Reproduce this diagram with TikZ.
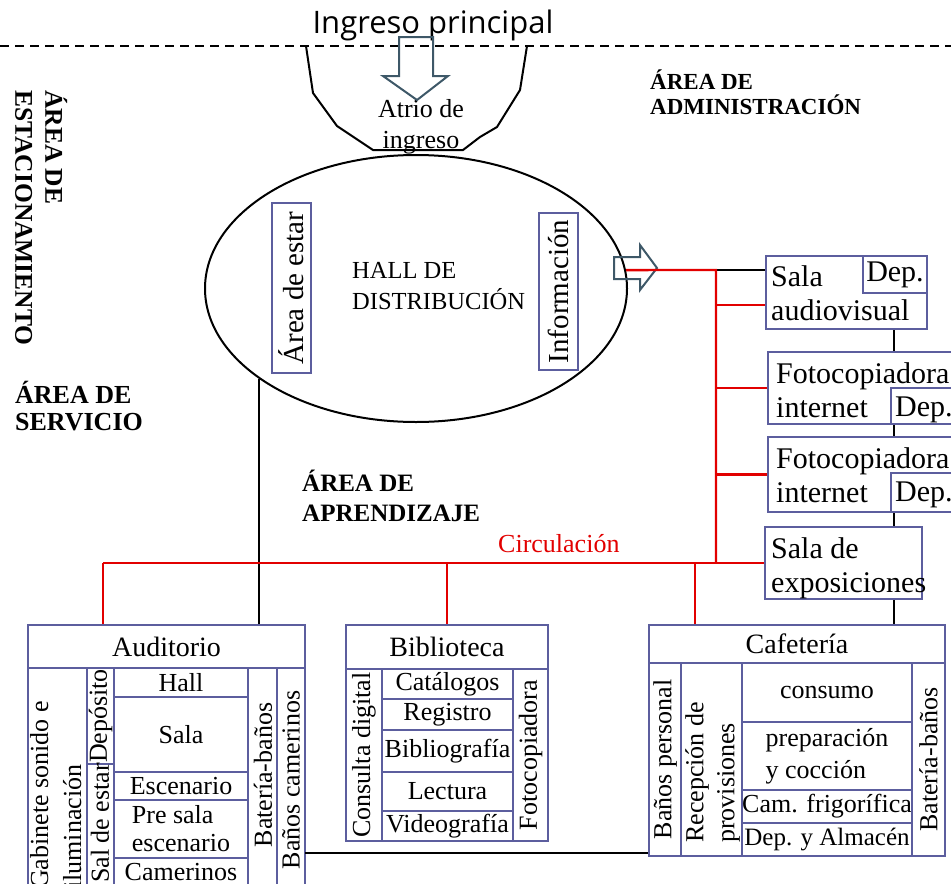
\documentclass[tikz,border=0pt]{standalone}
\usepackage{fontspec}
\setmainfont{Liberation Serif}
\newfontfamily\signfont{Open Sans}
\usetikzlibrary{shapes.geometric}
\definecolor{cellblue}{RGB}{92,94,158}
\definecolor{circred}{RGB}{226,0,0}
\definecolor{slate}{RGB}{62,88,104}

\begin{document}
\begin{tikzpicture}[x=1pt, y=-1pt,
  every node/.style={font=\fontsize{26}{30}\selectfont, inner sep=0pt},
  cell/.style={draw=cellblue, line width=2pt},
  cellat/.style args={#1/#2/#3/#4}{at={({(#1+#3)/2},{(#2+#4)/2})},
    minimum width={#3-#1}, minimum height={#4-#2}},
  head/.style={cell, font=\fontsize{28}{32}\selectfont},
  big/.style={font=\fontsize{30}{34}\selectfont},
  zone/.style={font=\bfseries\fontsize{23}{25}\selectfont, align=left},
  wall/.style={line width=2pt},
  link/.style={line width=2.3pt},
  circ/.style={line width=2.3pt, draw=circred},
  hollow/.style={draw=slate, line width=2pt}]
\useasboundingbox (0,0) rectangle (951,884);
\clip (0,0) rectangle (951,884);

% entrance and atrium
\draw[wall, dash pattern=on 9pt off 6pt] (0,46) -- (951,46);
\node[font=\signfont\fontsize{31}{34}\selectfont, anchor=base] (ingreso) at (433,33) {Ingreso principal};
\draw[wall] (306,46) -- (313,93) -- (337,126) -- (373,150) -- (463,150) -- (480,137) -- (497,127) -- (520,90) -- (527,46);
\node[align=center, font=\fontsize{26}{31}\selectfont, anchor=north] (atrio) at (421,99) {Atrio de\\ingreso};
\draw[hollow] (399,37) -- (433,37) -- (433,76) -- (448,76) -- (417,100) -- (383,76) -- (399,76) -- cycle;

% distribution hall
\node[draw, ellipse, line width=2pt, minimum width=422, minimum height=267] (hall) at (416,288.5) {};
\node[cell, font=\fontsize{29}{34}\selectfont, cellat=272/203/311/373] (estar) {\rotatebox{90}{Área de estar}};
\node[cell, font=\fontsize{29}{34}\selectfont, cellat=539/213/578/370] (info) {\rotatebox{90}{Información}};
\node[align=left, anchor=north west, font=\fontsize{24.5}{31}\selectfont] (hallT) at (352,262) {HALL DE\\DISTRIBUCIÓN};
\draw[hollow] (614,257) -- (640,257) -- (640,245) -- (657,268) -- (640,290) -- (640,279) -- (614,279) -- cycle;

% zones
\node[zone, anchor=south west] (admin) at (650,115) {ÁREA DE\\ADMINISTRACIÓN};
\node[zone, font=\bfseries\fontsize{26}{27}\selectfont, anchor=south west] (servicio) at (15,431) {ÁREA DE\\SERVICIO};
\node[zone, font=\bfseries\fontsize{25}{30}\selectfont, anchor=south west] (aprend) at (302,522) {ÁREA DE\\APRENDIZAJE};
\node[zone, font=\bfseries\fontsize{25.5}{30}\selectfont, rotate=-90, anchor=south west] (estac) at (15,90) {ÁREA DE\\ESTACIONAMIENTO};
\node[text=circred, anchor=base west] (circT) at (498,552) {Circulación};

% administration rooms
\node[cell, cellat=766/256/927/329] (saud) {};
\node[cell, big, cellat=863/256/927/293] (saudDep) {Dep.};
\node[big, align=left, anchor=north west] (saudT) at (771,265) {Sala\\audiovisual};
\node[cell, cellat=768/352/962/424] (foto1) {};
\node[cell, cellat=891/388/962/424] (foto1Dep) {};
\node[big, anchor=base west] (foto1DepT) at (895,416) {Dep.};
\node[big, align=left, anchor=north west] (foto1T) at (776,362) {Fotocopiadora\\internet};
\node[cell, cellat=768/437/962/512] (foto2) {};
\node[cell, cellat=891/473/962/512] (foto2Dep) {};
\node[big, anchor=base west] (foto2DepT) at (895,501) {Dep.};
\node[big, align=left, anchor=north west] (foto2T) at (776,447) {Fotocopiadora\\internet};
\node[cell, cellat=765/527/922/599] (sexp) {};
\node[big, align=left, anchor=north west] (sexpT) at (771,537) {Sala de\\exposiciones};

% auditorium
\node[cell, cellat=28/625/305/900] (aud) {};
\node[head, cellat=28/625/305/668] (audH) {Auditorio};
\node[cell, cellat=28/668/87/900] (audGab) {};
\node[rotate=90, align=left, anchor=north west, font=\fontsize{26}{33}\selectfont] (audGabT) at (30,889) {Gabinete sonido e\\iluminación};
\node[cell, cellat=87/668/114/764] (audDep) {\rotatebox{90}{Depósito}};
\node[cell, cellat=87/764/114/900] (audSal) {};
\node[rotate=90] (audSalT) at (100,823) {Sal de estar};
\node[cell, cellat=114/668/248/697] (audHall) {Hall};
\node[cell, cellat=114/697/248/772] (audSala) {Sala};
\node[cell, cellat=114/772/248/800] (audEsc) {Escenario};
\node[cell, cellat=114/800/248/858, align=left, font=\fontsize{26}{28}\selectfont] (audPre) {Pre sala\\escenario};
\node[cell, cellat=114/858/248/900] (audCam) {};
\node (audCamT) at (181,872) {Camerinos};
\node[cell, cellat=248/668/277/900] (audBat) {};
\node[rotate=90] (audBatT) at (263,775) {Batería-baños};
\node[cell, cellat=277/668/305/900] (audBan) {};
\node[rotate=90] (audBanT) at (291,780) {Baños camerinos};

% library
\node[cell, cellat=346/625/548/841] (bib) {};
\node[head, cellat=346/625/548/669] (bibH) {Biblioteca};
\node[cell, cellat=346/669/382/841] (bibCon) {\rotatebox{90}{Consulta digital}};
\node[cell, cellat=382/669/513/699] (bibCat) {Catálogos};
\node[cell, cellat=382/699/513/730] (bibReg) {Registro};
\node[cell, cellat=382/730/513/772] (bibBib) {Bibliografía};
\node[cell, cellat=382/772/513/811] (bibLec) {Lectura};
\node[cell, cellat=382/811/513/841] (bibVid) {Videografía};
\node[cell, cellat=513/669/548/841] (bibFot) {\rotatebox{90}{Fotocopiadora}};

% cafeteria
\node[cell, cellat=649/625/945/856] (caf) {};
\node[head, cellat=649/625/945/663] (cafH) {Cafetería};
\node[cell, cellat=649/663/681/856] (cafBan) {\rotatebox{90}{Baños personal}};
\node[cell, cellat=681/663/742/856] (cafRec) {};
\node[rotate=90, align=left, anchor=north west, font=\fontsize{26}{31}\selectfont] (cafRecT) at (685,843) {Recepción de\\provisiones};
\node[cell, cellat=742/663/912/722] (cafCon) {consumo};
\node[cell, cellat=742/722/912/790, align=left, font=\fontsize{26}{32}\selectfont] (cafPre) {preparación\\y cocción};
\node[cell, cellat=742/790/912/823] (cafCam) {Cam. frigorífica};
\node[cell, cellat=742/823/912/856, font=\fontsize{25}{30}\selectfont] (cafDep) {Dep. y Almacén};
\node[cell, cellat=912/663/945/856] (cafBat) {\rotatebox{90}{Batería-baños}};

% links
\coordinate (cT) at (716,270);
\coordinate (cB) at (716,563);
\coordinate (cL) at (103,563);
\coordinate (cC) at (695,563);
\coordinate (b1) at (716,305);
\coordinate (spine) at (894,0);
\coordinate (low) at (305,853);

\draw[link] (hall.210) -- (hall.210 |- aud.north);
\draw[link] (cT) -- (cT -| saud.west);
\draw[link] (saud.south -| spine) -- (foto1.north -| spine);
\draw[link] (foto1.south -| spine) -- (foto2.north -| spine);
\draw[link] (foto2.south -| spine) -- (sexp.north -| spine);
\draw[link] (sexp.south -| spine) -- (caf.north -| spine);
\draw[link] (low) -- (low -| caf.west);

% circulation
\draw[circ] (hall.5) -- (cT) -- (cB);
\draw[circ] (cL) -- (cB);
\draw[circ] (cL) -- (cL |- aud.north);
\draw[circ] (bib.north |- cL) -- (bib.north);
\draw[circ] (cC) -- (cC |- caf.north);
\draw[circ] (b1) -- (b1 -| saud.west);
\draw[circ] (foto1.west -| cT) -- (foto1.west);
\draw[circ] (foto2.west -| cT) -- (foto2.west);
\draw[circ] (cB) -- (sexp.west);
\end{tikzpicture}
\end{document}
